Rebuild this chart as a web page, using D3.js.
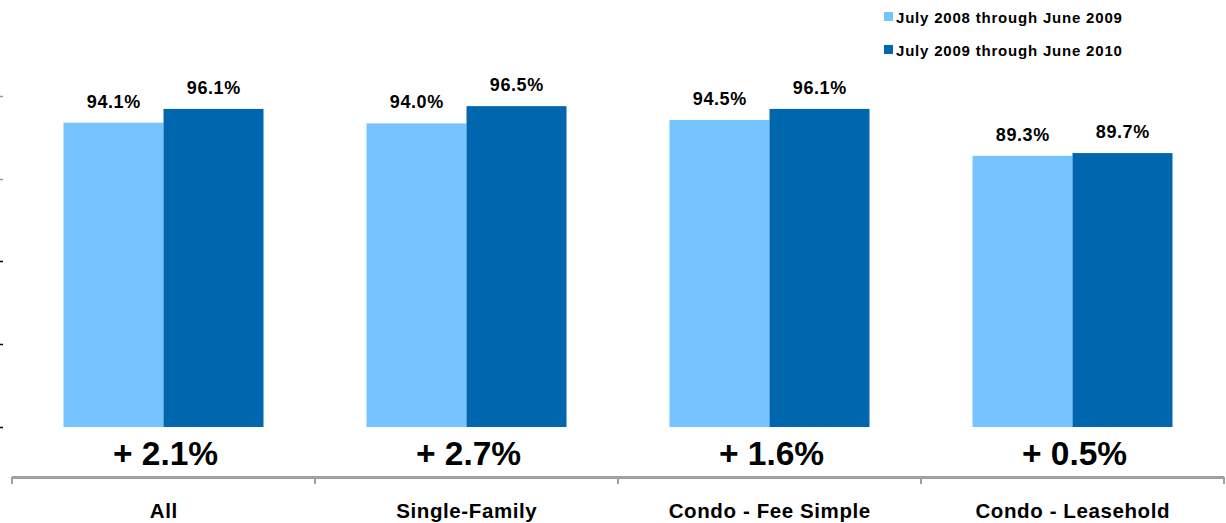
<head>
	<script src="https://d3js.org/d3.v7.min.js"></script>
	<style type="text/css">
		body { margin: 0; background: #fff; }
		text { font-family: 'Liberation Sans', Arial, sans-serif; font-weight: bold; fill: #000; }
	</style>
</head>
<body>
	<script type="text/javascript">
		// data
		const categories = ['All', 'Single-Family', 'Condo - Fee Simple', 'Condo - Leasehold']
		const seriesNames = ['July 2008 through June 2009', 'July 2009 through June 2010']
		const period1 = [94.1, 94.0, 94.5, 89.3]
		const period2 = [96.1, 96.5, 96.1, 89.7]
		const changes = ['+ 2.1%', '+ 2.7%', '+ 1.6%', '+ 0.5%']
		const yTicks = [50, 62, 74, 86, 98]
		const colors = ['#75c4ff', '#0066ad']

		const width = 1226, height = 523

		const data = categories.map((c, i) => ({
			category: c,
			values: [period1[i], period2[i]],
			change: changes[i]
		}))

		const svg = d3.select('body').append('svg')
			.attr('width', width)
			.attr('height', height)

		const x0 = d3.scaleBand()
			.domain(categories)
			.range([12, 1224])
			.padding(0)
		const x1 = d3.scaleBand()
			.domain([0, 1])
			.range([0, x0.bandwidth()])
			.paddingInner(0)
			.paddingOuter(0.515)
		const y = d3.scaleLinear()
			.domain([50, 110])
			.range([427, 13])

		// left ticks only, no axis line
		svg.append('g').attr('class', 'y-axis')
			.selectAll('line')
			.data(yTicks)
			.enter().append('line')
			.attr('x1', 0).attr('x2', 3)
			.attr('y1', d => Math.round(y(d)) + 0.5)
			.attr('y2', d => Math.round(y(d)) + 0.5)
			.attr('stroke', (d, i) => i > 2 ? '#999' : '#000')
			.attr('stroke-width', 1.5)

		const groups = svg.append('g').attr('class', 'bars')
			.selectAll('g')
			.data(data)
			.enter().append('g')
			.attr('transform', d => 'translate(' + x0(d.category) + ',0)')

		groups.selectAll('rect')
			.data(d => d.values)
			.enter().append('rect')
			.attr('x', (d, i) => x1(i))
			.attr('y', d => y(d))
			.attr('width', x1.bandwidth())
			.attr('height', d => y(50) - y(d))
			.style('fill', (d, i) => colors[i])

		groups.selectAll('text.value')
			.data(d => d.values)
			.enter().append('text')
			.attr('class', 'value')
			.attr('x', (d, i) => x1(i) + x1.bandwidth() / 2 + 0.3)
			.attr('y', d => y(d) - 15)
			.attr('text-anchor', 'middle')
			.style('font-size', '18px')
			.style('letter-spacing', '0.6px')
			.text(d => d.toFixed(1) + '%')

		groups.append('text')
			.attr('class', 'change')
			.attr('x', x0.bandwidth() / 2 + 2)
			.attr('y', 465)
			.attr('text-anchor', 'middle')
			.style('font-size', '33.5px')
			.text(d => d.change)

		// bottom axis
		const xAxis = svg.append('g').attr('class', 'x-axis')
		xAxis.append('line')
			.attr('x1', x0.range()[0]).attr('x2', x0.range()[1])
			.attr('y1', 477.5).attr('y2', 477.5)
			.attr('stroke', '#a0a0a0').attr('stroke-width', 3)
		xAxis.selectAll('line.tick')
			.data(categories.map(c => x0(c)).concat([x0.range()[1]]))
			.enter().append('line')
			.attr('class', 'tick')
			.attr('x1', d => d).attr('x2', d => d)
			.attr('y1', 477).attr('y2', 484)
			.attr('stroke', '#a0a0a0').attr('stroke-width', 2)
		xAxis.selectAll('text')
			.data(categories)
			.enter().append('text')
			.attr('x', d => x0(d) + x0.bandwidth() / 2 + 0.3)
			.attr('y', 518)
			.attr('text-anchor', 'middle')
			.style('font-size', '20.5px')
			.style('letter-spacing', '0.6px')
			.text(d => d)

		// legend
		const legend = svg.append('g').attr('class', 'legend')
			.selectAll('g')
			.data(seriesNames)
			.enter().append('g')
			.attr('transform', (d, i) => 'translate(884,' + (12 + i * 33) + ')')
		legend.append('rect')
			.attr('width', 9).attr('height', 9)
			.style('fill', (d, i) => colors[i])
		legend.append('text')
			.attr('x', 12).attr('y', 11)
			.style('font-size', '15px')
			.style('letter-spacing', '0.8px')
			.text(d => d)
	</script>
</body>
